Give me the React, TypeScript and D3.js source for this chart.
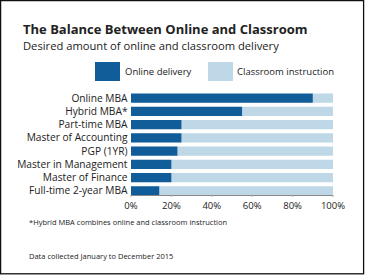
import React from "react";
import * as d3 from "d3";

const categories = [
  "Online MBA",
  "Hybrid MBA*",
  "Part-time MBA",
  "Master of Accounting",
  "PGP (1YR)",
  "Master in Management",
  "Master of Finance",
  "Full-time 2-year MBA",
];
const onlineValues = [90, 55, 25, 25, 23, 20, 20, 14];
const classroomValues = onlineValues.map((v) => 100 - v);
const seriesNames = ["Online delivery", "Classroom instruction"];
const tickValues = [0, 20, 40, 60, 80, 100];

const DARK = "#115d9a";
const LIGHT = "#bed8e8";
const TEXT = "#222";
const FONT = "'Open Sans', sans-serif";

export default function App() {
  const W = 366;
  const H = 275;
  const x = d3.scaleLinear().domain([0, 100]).range([131, 333]);
  const y = d3.scaleBand<string>().domain(categories).range([91.5, 197.5]).paddingInner(0.3).paddingOuter(0.15);

  return (
    <svg width={W} height={H} style={{ position: "absolute", left: 0, top: 0, background: "#fff" }} fontFamily={FONT}>
      <rect x={0.6} y={0.6} width={363} height={273.2} fill="#fff" stroke="#111" strokeWidth={1.3} />
      <text x={23} y={33.5} fontSize={13} fontWeight={700} fill={TEXT}>
        The Balance Between Online and Classroom
      </text>
      <text x={23} y={49.5} fontSize={11.2} fill={TEXT}>
        Desired amount of online and classroom delivery
      </text>
      {/* legend */}
      <rect x={95} y={62} width={25} height={19} fill={DARK} />
      <text x={125} y={75} fontSize={9.5} fill={TEXT}>{seriesNames[0]}</text>
      <rect x={208} y={62} width={25} height={19} fill={LIGHT} />
      <text x={237} y={75} fontSize={9.5} fill={TEXT}>{seriesNames[1]}</text>
      {/* bars */}
      {categories.map((c, i) => {
        const yy = y(c)!;
        return (
          <g key={c}>
            <rect x={x(onlineValues[i])} y={yy} width={x(100) - x(onlineValues[i])} height={y.bandwidth()} fill={LIGHT} />
            <rect x={x(0)} y={yy} width={x(onlineValues[i]) - x(0)} height={y.bandwidth()} fill={DARK} />
            <text x={127.5} y={yy + y.bandwidth() / 2} dy="0.35em" textAnchor="end" fontSize={10.2} fill={TEXT}>
              {c}
            </text>
          </g>
        );
      })}
      {/* axis */}
      <line x1={x(0)} x2={x(100)} y1={195.5} y2={195.5} stroke="#888" strokeWidth={1} />
      {tickValues.map((t) => (
        <g key={t}>
          <line x1={x(t)} x2={x(t)} y1={195} y2={197} stroke="#aaa" strokeWidth={1} />
          <text x={x(t)} y={209} textAnchor="middle" fontSize={9.5} fill={TEXT}>
            {t}%
          </text>
        </g>
      ))}
      <text x={29} y={225} fontSize={7.5} fill={TEXT}>
        *Hybrid MBA combines online and classroom instruction
      </text>
      <text x={29} y={259} fontSize={7.5} fill={TEXT}>
        Data collected January to December 2015
      </text>
    </svg>
  );
}
